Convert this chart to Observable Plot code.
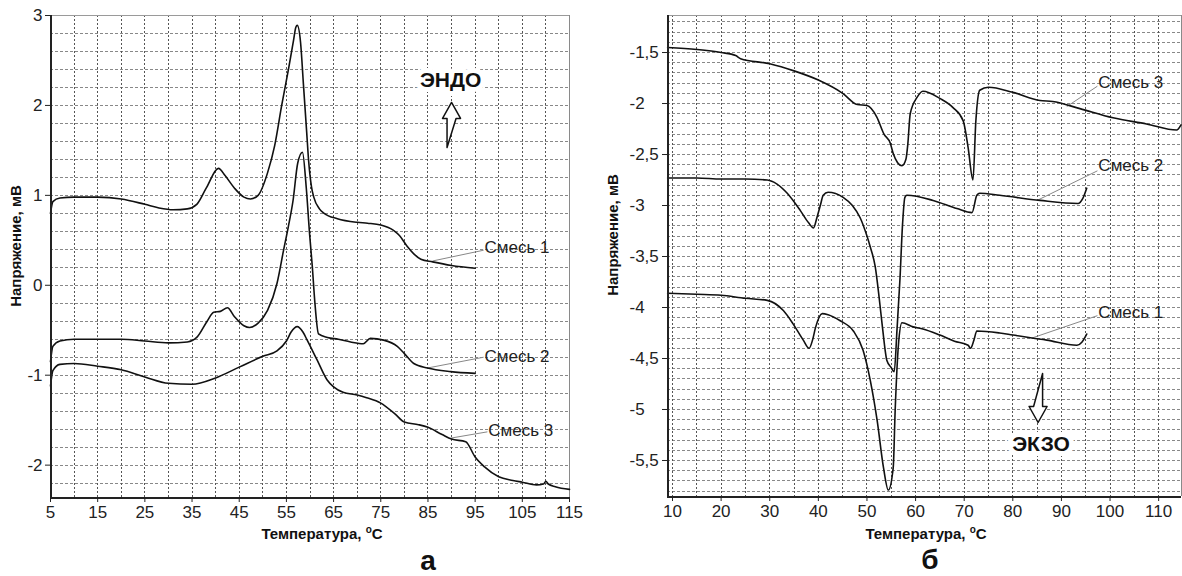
<!DOCTYPE html>
<html>
<head>
<meta charset="utf-8">
<script src="https://cdn.jsdelivr.net/npm/d3@7"></script>
<script src="https://cdn.jsdelivr.net/npm/@observablehq/plot@0.6"></script>
<style>
  html, body { margin: 0; padding: 0; background: #fff; }
  #wrap { position: relative; width: 1182px; height: 576px; overflow: hidden; font-family: "Liberation Sans", Arial, Helvetica, sans-serif; color: #111; }
  #left, #right { position: absolute; top: 0; height: 576px; }
  #left { left: 0; width: 590px; }
  #right { left: 590px; width: 592px; }
  #wrap svg { max-width: none !important; display: block; }
  .lbl { position: absolute; white-space: nowrap; font-weight: bold; font-size: 15px; transform: translate(-50%, -50%); }
  .rot { transform: translate(-50%, -50%) rotate(-90deg); }
  .lbl sup { font-size: 10px; vertical-align: 6px; line-height: 0; }
  .letter { position: absolute; font-weight: bold; font-size: 28px; line-height: 28px; transform: translate(-50%, -50%); }
</style>
</head>
<body>
<div id="wrap">
  <div id="left"></div>
  <div id="right"></div>
  <div class="lbl rot" style="left:15px;top:246px">Напряжение, мВ</div>
  <div class="lbl rot" style="left:612px;top:235px">Напряжение, мВ</div>
  <div class="lbl" style="left:322px;top:533px">Температура, <sup>о</sup>С</div>
  <div class="lbl" style="left:926px;top:533px">Температура, <sup>о</sup>С</div>
  <div class="letter" style="left:428px;top:561px">а</div>
  <div class="letter" style="left:930px;top:560px">б</div>
</div>
<script>
// ---------- Panel а (left) ----------
const aXTicks = [5, 15, 25, 35, 45, 55, 65, 75, 85, 95, 105, 115];
const aYTicks = [-2, -1, 0, 1, 2, 3];

const aT1 = [5,5.5,7,10,15,20,25,28,31,34,36,38,40.6,42,44,46,47.4,49,51,52.5,54,55.5,56.5,57,57.3,58,58.6,59.3,59.7,60.3,60.8,62,63,65.8,70,72.2,75,77.7,79,80.5,82,83.5,86,90,95];
const aV1 = [0.80,0.93,0.97,0.98,0.98,0.96,0.90,0.86,0.84,0.85,0.90,1.08,1.30,1.22,1.08,0.98,0.96,1.00,1.25,1.55,2.00,2.42,2.72,2.87,2.89,2.70,2.24,1.70,1.39,1.10,0.98,0.85,0.80,0.74,0.70,0.69,0.67,0.61,0.55,0.44,0.35,0.29,0.26,0.22,0.19];

const aT2 = [5,5.5,7,10,15,20,25,30,34,36,38.2,39.6,41,42.5,44,46,47.2,49,51,53,54.4,55.4,56.4,57.4,58.4,59.2,59.9,60.5,61,61.8,63.7,66,68.6,71.3,72.8,75.6,78.5,80,82,84.9,89.8,95];
const aV2 = [-0.85,-0.68,-0.62,-0.60,-0.60,-0.60,-0.62,-0.64,-0.63,-0.58,-0.40,-0.30,-0.29,-0.25,-0.35,-0.45,-0.47,-0.42,-0.28,0.02,0.39,0.65,0.94,1.36,1.48,1.09,0.58,0.20,-0.17,-0.54,-0.58,-0.60,-0.63,-0.65,-0.59,-0.61,-0.68,-0.76,-0.87,-0.92,-0.96,-0.98];

const aT3 = [5,5.5,7,10,15,20,25,30,35,40,45,50,53,55,56,57.3,58.5,59.4,61.5,63.6,65,67,70,72,75,78,80,83,85,88,90,93,95,97,100,103,105,108,109.5,110,110.5,112,115];
const aV3 = [-1.12,-0.95,-0.88,-0.87,-0.90,-0.94,-1.02,-1.09,-1.10,-1.03,-0.91,-0.79,-0.73,-0.62,-0.52,-0.46,-0.52,-0.61,-0.83,-1.05,-1.13,-1.19,-1.22,-1.25,-1.31,-1.43,-1.52,-1.55,-1.58,-1.66,-1.71,-1.74,-1.91,-2.02,-2.13,-2.17,-2.19,-2.22,-2.21,-2.18,-2.21,-2.24,-2.27];

const aNames = ["Смесь 1", "Смесь 2", "Смесь 3"];
const aLabelX = [97.0, 97.0, 97.8];
const aLabelY = [0.42, -0.79, -1.61];
const aLeadX1 = [85.97, 84.9, 89.8];
const aLeadY1 = [0.27, -0.92, -1.70];
const aLeadX2 = [96.8, 96.8, 97.6];
const aLeadY2 = [0.39, -0.80, -1.63];
const aNote = {text: "ЭНДО", x: 89.8, y: 2.28};
const aArrow = {x: 90.0, y: 1.533};

// ---------- Panel б (right) ----------
const bXTicks = [10, 20, 30, 40, 50, 60, 70, 80, 90, 100, 110];
const bYTicks = [-1.5, -2, -2.5, -3, -3.5, -4, -4.5, -5, -5.5];

const bT3 = [9,15,20,23,24,30,35,40,45,48,50,52,53.5,54.8,55.4,56.3,57.2,58,58.4,58.9,60.3,61.5,65,67.7,69.8,70.8,71.8,72.4,73.2,75,80,85.6,88.2,93.8,100.6,107.5,113.7,114.6];
const bV3 = [-1.45,-1.47,-1.50,-1.53,-1.56,-1.61,-1.68,-1.77,-1.90,-2.01,-2.02,-2.13,-2.30,-2.39,-2.49,-2.58,-2.61,-2.55,-2.40,-2.10,-1.94,-1.88,-1.95,-2.04,-2.17,-2.43,-2.75,-2.17,-1.87,-1.84,-1.89,-1.97,-1.98,-2.05,-2.14,-2.20,-2.26,-2.21];

const bT2 = [9,15,20,25,29.5,31.5,33.6,36.3,38,39,39.7,40.4,41,42,45.1,47,48.6,50,50.7,51.7,52.5,53.2,54.1,55,55.6,56.2,56.8,57.3,57.8,58.2,63.6,68.5,71.6,72.6,73.2,77.3,85.6,93.4,94.4,95.2];
const bV2 = [-2.73,-2.73,-2.74,-2.74,-2.75,-2.79,-2.88,-3.05,-3.17,-3.22,-3.12,-3.00,-2.90,-2.87,-2.92,-3.00,-3.12,-3.30,-3.41,-3.60,-3.90,-4.20,-4.52,-4.59,-4.63,-4.20,-3.71,-3.20,-2.92,-2.90,-2.95,-3.03,-3.07,-2.90,-2.88,-2.90,-2.95,-2.98,-2.93,-2.83];

const bT1 = [9,15,20,25,29.5,32.8,34.8,36.9,38.1,38.8,39.4,40.8,42,44.5,47.2,49.2,50.7,52.1,53.4,54.4,55.4,55.8,56.5,57.2,59.5,61.5,65,68,70.8,71.3,72,72.6,77.3,80,87,93.2,94.2,95.2];
const bV1 = [-3.86,-3.87,-3.88,-3.91,-3.93,-4.03,-4.16,-4.32,-4.40,-4.32,-4.20,-4.06,-4.07,-4.13,-4.23,-4.42,-4.72,-5.11,-5.57,-5.79,-5.57,-5.01,-4.35,-4.15,-4.19,-4.21,-4.27,-4.33,-4.37,-4.40,-4.32,-4.23,-4.25,-4.27,-4.32,-4.37,-4.34,-4.26];

const bNames = ["Смесь 3", "Смесь 2", "Смесь 1"];
const bLabelX = [97.6, 97.6, 97.6];
const bLabelY = [-1.79, -2.61, -4.05];
const bLeadX1 = [91.1, 85.0, 83.9];
const bLeadY1 = [-2.03, -2.95, -4.30];
const bLeadX2 = [97.4, 97.4, 97.4];
const bLeadY2 = [-1.83, -2.66, -4.08];
const bNote = {text: "ЭКЗО", x: 85.8, y: -5.34};
const bArrow = {x: 85.2, y: -4.647};

// ---------- helpers ----------
const FONT = '"Liberation Sans", Arial, Helvetica, sans-serif';
const fmt = d => String(d).replace(".", ",");
const rows = (t, v) => t.map((x, i) => ({x, y: v[i]}));
const range = (a, b, s) => { const out = []; for (let k = 0; a + k * s <= b + 1e-9; k++) out.push(+(a + k * s).toFixed(4)); return out; };
const labelRows = (names, lx, ly) => names.map((n, i) => ({text: n, x: lx[i], y: ly[i]}));
const leadRows = (x1, y1, x2, y2) => x1.map((d, i) => ({x1: d, y1: y1[i], x2: x2[i], y2: y2[i]}));

// hollow block arrow drawn along the vector (pointing "up" before rotation)
const hollowArrow = {
  draw(context, l) {
    const s = 4.5, h = 9, hh = 16;
    context.moveTo(-s, 0);
    context.lineTo(-s, -(l - hh));
    context.lineTo(-h, -(l - hh));
    context.lineTo(0, -l);
    context.lineTo(h, -(l - hh));
    context.lineTo(s, -(l - hh));
    context.closePath();
  }
};

function panel(cfg) {
  const [x0, x1] = cfg.xDomain, [y0, y1] = cfg.yDomain;
  const gridX = range(cfg.gridX[0], cfg.gridX[1], cfg.gridX[2]).filter(d => d > x0 + 0.1 && d < x1 - 0.1);
  const gridY = range(cfg.gridY[0], cfg.gridY[1], cfg.gridY[2]).filter(d => d > y0 + 0.01 && d < y1 - 0.01);
  const marks = [
    Plot.ruleY(gridY, {stroke: "#888", strokeWidth: 1, strokeDasharray: "3,2", shapeRendering: "crispEdges"}),
    Plot.ruleX(gridX, {stroke: "#555", strokeWidth: 1, strokeDasharray: "2,2", shapeRendering: "crispEdges"}),
    Plot.ruleY([y1], {stroke: "#9a9a9a", strokeWidth: 1.5, shapeRendering: "crispEdges"}),
    Plot.ruleX([x1], {stroke: "#8a8a8a", strokeWidth: 1.5, shapeRendering: "crispEdges"}),
    Plot.text([cfg.note], {x: "x", y: "y", text: "text", fontSize: 21, fontWeight: "bold", fill: "#111", stroke: "white", strokeWidth: 10}),
    Plot.link(leadRows(...cfg.leads), {x1: "x1", y1: "y1", x2: "x2", y2: "y2", stroke: "#888", strokeWidth: 1}),
    Plot.text(labelRows(...cfg.labels), {x: "x", y: "y", text: "text", textAnchor: "start", fontSize: 17, fill: "#222"}),
    ...cfg.series.map(([t, v]) => Plot.line(rows(t, v), {x: "x", y: "y", stroke: "#111", strokeWidth: 1.6, curve: "monotone-x"})),
    Plot.vector([cfg.arrow], {x: "x", y: "y", length: cfg.arrowLength, rotate: cfg.arrowRotate, anchor: "start", shape: hollowArrow, stroke: "#111", fill: "white", strokeWidth: 1.5}),
    Plot.ruleX([x0], {stroke: "#222", strokeWidth: 2, shapeRendering: "crispEdges"}),
    Plot.ruleY([y0], {stroke: "#222", strokeWidth: 2, shapeRendering: "crispEdges"}),
    ...(cfg.extra || [])
  ];
  return Plot.plot({
    width: cfg.width, height: 576,
    marginLeft: cfg.marginLeft, marginRight: cfg.marginRight, marginTop: 15, marginBottom: cfg.marginBottom,
    x: {domain: cfg.xDomain, ticks: cfg.xTicks, tickSize: 5, tickPadding: 3, tickFormat: d => String(d), label: null},
    y: {domain: cfg.yDomain, ticks: cfg.yTicks, tickSize: 5, tickPadding: 3, tickFormat: cfg.yTickFormat, label: null},
    style: {fontFamily: FONT, fontSize: "17px", color: "#222", background: "transparent", overflow: "visible", maxWidth: "none", width: cfg.width + "px", height: "576px"},
    marks
  });
}

const left = panel({
  width: 590, marginLeft: 50, marginRight: 21, marginBottom: 79,
  xDomain: [5, 115], yDomain: [-2.36, 3],
  xTicks: aXTicks, yTicks: aYTicks, yTickFormat: d => String(d),
  gridX: [5, 115, 5], gridY: [-2.2, 3, 0.2],
  series: [[aT1, aV1], [aT2, aV2], [aT3, aV3]],
  labels: [aNames, aLabelX, aLabelY],
  leads: [aLeadX1, aLeadY1, aLeadX2, aLeadY2],
  note: aNote, arrow: aArrow, arrowLength: 45, arrowRotate: 0
});

const right = panel({
  width: 592, marginLeft: 77, marginRight: 1, marginBottom: 80,
  xDomain: [8.97, 114.7], yDomain: [-5.853, -1.137],
  xTicks: bXTicks, yTicks: bYTicks, yTickFormat: () => "",
  gridX: [10, 110, 5], gridY: [-5.8, -1.2, 0.1],
  series: [[bT3, bV3], [bT2, bV2], [bT1, bV1]],
  labels: [bNames, bLabelX, bLabelY],
  leads: [bLeadX1, bLeadY1, bLeadX2, bLeadY2],
  note: bNote, arrow: bArrow, arrowLength: 49, arrowRotate: 180,
  extra: [Plot.text(bYTicks, {y: d => d, text: d => fmt(d), frameAnchor: "left", dx: -38, textAnchor: "start", fontSize: 17, fill: "#222"})]
});

document.getElementById("left").appendChild(left);
document.getElementById("right").appendChild(right);
</script>
</body>
</html>
